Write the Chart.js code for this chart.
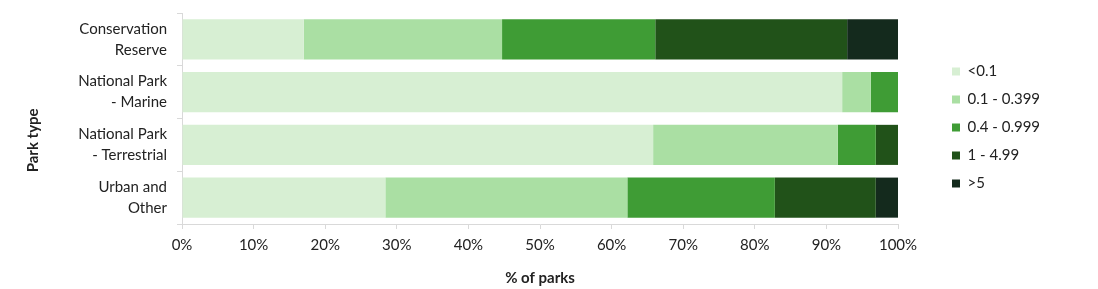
<!DOCTYPE html>
<html>
<head>
<meta charset="utf-8">
<script src="https://cdn.jsdelivr.net/npm/chart.js@4"></script>
<style>
  body { margin: 0; background: #fff; }
  #wrap { width: 1098px; height: 289px; position: relative; }
</style>
</head>
<body>
<div id="wrap"><canvas id="parksChart"></canvas></div>
<script>

const parkTypes = [
    ["Conservation", "Reserve"],
    ["National Park", "- Marine"],
    ["National Park", "- Terrestrial"],
    ["Urban and", "Other"]
]

const sizeClasses = ["<0.1", "0.1 - 0.399", "0.4 - 0.999", "1 - 4.99", ">5"]

const under01 = [17.0, 92.2, 65.8, 28.4]
const from01to0399 = [27.7, 4.0, 25.8, 33.8]
const from04to0999 = [21.4, 3.8, 5.3, 20.6]
const from1to499 = [26.8, 0, 3.1, 14.1]
const over5 = [7.1, 0, 0, 3.1]

const xTicks = [0, 10, 20, 30, 40, 50, 60, 70, 80, 90, 100]

const colours = ["#d7efd3", "#aadfa3", "#3f9c35", "#215219", "#142a1d"]

const textColour = "#222222"
const axisColour = "#d9d9d9"
const fontFamily = "Lato, 'Noto Sans', sans-serif"


/* put the legend where the reference has it */

const legendPlace = {
    id: "legendPlace",
    beforeInit(chart) {
        const fit = chart.legend.fit
        chart.legend.fit = function () {
            fit.call(this)
            this.width = 200
        }
    },
    afterLayout(chart) {
        chart.legend.left = 939
        chart.legend.top = 51
    }
}

const series = [under01, from01to0399, from04to0999, from1to499, over5]

new Chart(
    document.getElementById("parksChart"),
    {
        type: "bar",

        data: {
            labels: parkTypes,
            datasets: series.map((values, i) => ({
                label: sizeClasses[i],
                data: values,
                backgroundColor: colours[i],
                borderWidth: 0,
                barPercentage: 0.76,
                categoryPercentage: 1
            }))
        },

        options: {
            indexAxis: "y",
            responsive: true,
            maintainAspectRatio: false,
            animation: false,
            layout: { autoPadding: false, padding: { top: 13, left: 0, right: 0, bottom: 0 } },
            scales: {
                x: {
                    stacked: true,
                    min: 0,
                    max: 100,
                    afterBuildTicks: (s) => { s.ticks = xTicks.map(v => ({ value: v })) },
                    afterFit: (s) => {
                        s.height = 65
                        s.paddingLeft = 0
                        s.paddingRight = 0
                    },
                    ticks: {
                        color: textColour,
                        font: { family: fontFamily, size: 15 },
                        padding: 7,
                        callback: (v) => v + "%"
                    },
                    grid: { drawOnChartArea: false, drawTicks: true, tickLength: 5, color: axisColour },
                    border: { color: axisColour },
                    title: {
                        display: true,
                        text: "% of parks",
                        color: textColour,
                        font: { family: fontFamily, size: 15, weight: "bold" },
                        padding: { top: 0, bottom: 2 }
                    }
                },
                y: {
                    stacked: true,
                    afterFit: (s) => {
                        s.width = 182
                        s.paddingTop = 0
                        s.paddingBottom = 0
                    },
                    ticks: {
                        color: textColour,
                        font: { family: fontFamily, size: 15, lineHeight: 1.4 },
                        padding: 10
                    },
                    grid: { offset: true, drawOnChartArea: false, drawTicks: true, tickLength: 5, color: axisColour },
                    border: { color: axisColour },
                    title: {
                        display: true,
                        text: "Park type            ",
                        color: textColour,
                        font: { family: fontFamily, size: 15, weight: "bold" },
                        padding: { top: 24, bottom: 0 }
                    }
                }
            },
            plugins: {
                legend: {
                    position: "right",
                    align: "start",
                    labels: {
                        boxWidth: 8,
                        boxHeight: 8,
                        padding: 13,
                        color: textColour,
                        font: { family: fontFamily, size: 15 }
                    }
                },
                tooltip: { enabled: false }
            }
        },

        plugins: [legendPlace]
    })
</script>
</body>
</html>
